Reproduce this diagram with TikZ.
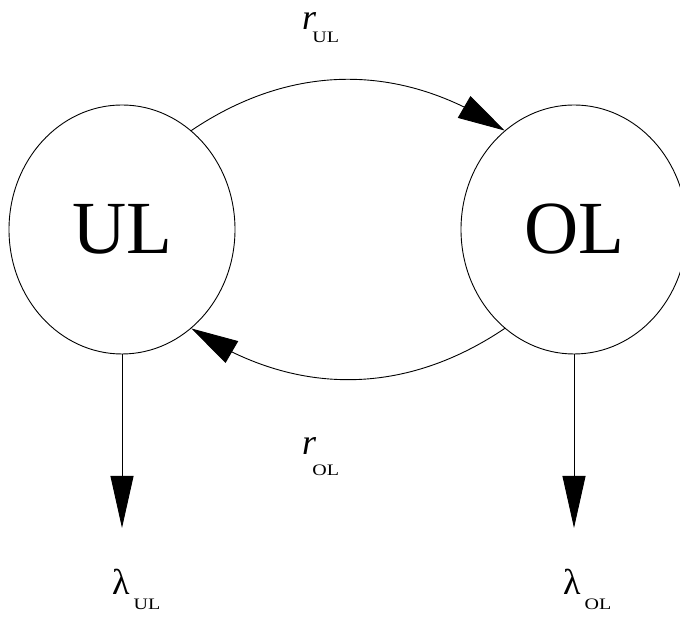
\documentclass[tikz,border=0pt]{standalone}
\usepackage{fontspec}
\setmainfont{Liberation Serif}
\usetikzlibrary{shapes.geometric,arrows.meta,bending}
% widened small subscript, lowered by #1
\newcommand{\lowsub}[2]{\raisebox{-#1}{\scalebox{1.25}[1]{\fontsize{16}{16}\selectfont #2}}}
\begin{document}
\begin{tikzpicture}[x=1pt,y=1pt,
  state/.style={draw, ellipse, minimum width=226pt, minimum height=249pt,
    inner sep=0pt, line width=0.9pt, font=\fontsize{75}{75}\selectfont},
  flow/.style={line width=0.9pt, -{Triangle[length=47pt,width=25pt,flex]}},
  loss/.style={line width=0.9pt, -{Triangle[length=52pt,width=23pt]}},
  rate/.style={inner sep=0pt, anchor=base west, font=\fontsize{36}{36}\selectfont}]
\useasboundingbox (0,0) rectangle (680,617);
% the two states
\node[state] (UL) at (122,387.5) {UL};
\node[state] (OL) at (574,387.5) {OL};
% free ends of the loss arrows
\coordinate (ULout) at (122,89);
\coordinate (OLout) at (574,89);
% transitions between the states
\draw[flow] (UL.55) to[bend left=34] (OL.125);
\draw[flow] (OL.235) to[bend left=34] (UL.305);
% losses
\draw[loss] (UL.south) -- (ULout);
\draw[loss] (OL.south) -- (OLout);
% rate labels
\node[rate] (rUL) at (302,587) {\textit{r}\kern-4pt\lowsub{13pt}{UL}};
\node[rate] (rOL) at (302,162) {\textit{r}\kern-4pt\lowsub{21pt}{OL}};
\node[rate] (lUL) at (112,22) {λ\kern4pt\lowsub{15pt}{UL}};
\node[rate] (lOL) at (563,22) {λ\kern4pt\lowsub{15pt}{OL}};
\end{tikzpicture}
\end{document}
